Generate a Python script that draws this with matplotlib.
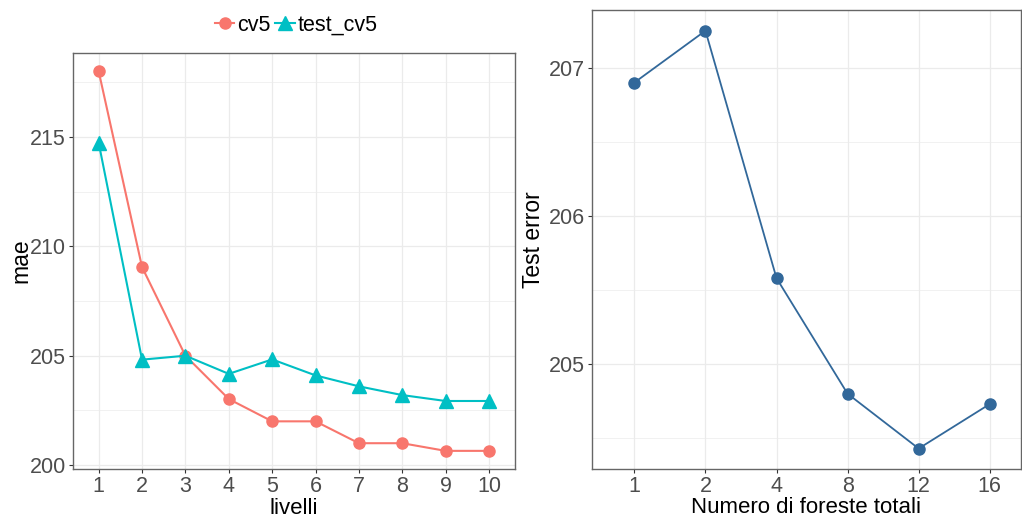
import numpy as np
import matplotlib
matplotlib.use('Agg')
import matplotlib.pyplot as plt
from matplotlib.ticker import MultipleLocator
from matplotlib.lines import Line2D

plt.rcParams['font.family'] = ['Liberation Sans', 'DejaVu Sans']

livelli = ['1', '2', '3', '4', '5', '6', '7', '8', '9', '10']
cv5 = [218.0, 209.05, 205.0, 203.02, 202.0, 202.0, 201.0, 201.0, 200.65, 200.65]
test_cv5 = [214.73, 204.82, 205.0, 204.17, 204.83, 204.1, 203.6, 203.2, 202.93, 202.93]

foreste = ['1', '2', '4', '8', '12', '16']
test_error = [206.9, 207.25, 205.58, 204.8, 204.43, 204.73]

red = '#F8766D'
teal = '#00BFC4'
blue = '#32689A'
grid_c = '#EBEBEB'
tick_c = '#4D4D4D'

fig = plt.figure(figsize=(10.22, 5.17), dpi=100)
ax1 = fig.add_axes([0.0711, 0.0928, 0.4328, 0.8052])
ax2 = fig.add_axes([0.579, 0.0923, 0.420, 0.8884])


def style(ax):
    ax.set_axisbelow(True)
    ax.grid(which='major', color=grid_c, lw=0.9)
    ax.grid(which='minor', axis='y', color=grid_c, lw=0.5)
    for s in ax.spines.values():
        s.set_color('#666666')
        s.set_linewidth(1.0)
    ax.tick_params(which='major', length=3, width=0.8, color='#333333',
                   labelcolor=tick_c, labelsize=15.5, pad=2)
    ax.tick_params(which='minor', length=0)


def place_labels(ax, xl, yl, xy, yx):
    ax.set_xlabel(xl, fontsize=16, va='baseline')
    ax.set_ylabel(yl, fontsize=16.5, va='baseline')
    ax.xaxis.set_label_coords(0.5, xy)
    ax.yaxis.set_label_coords(yx, 0.5)


# left panel
xs = np.arange(len(livelli))
ax1.plot(xs, cv5, color=red, lw=1.5, marker='o', ms=8, zorder=3)
ax1.plot(xs, test_cv5, color=teal, lw=1.5, marker='^', ms=10, zorder=3)
ax1.set_xticks(xs)
ax1.set_xticklabels(livelli)
ax1.set_xlim(-0.6, len(livelli) - 0.4)
ax1.set_ylim(199.82, 218.85)
ax1.yaxis.set_major_locator(MultipleLocator(5))
ax1.yaxis.set_minor_locator(MultipleLocator(2.5))
style(ax1)
place_labels(ax1, 'livelli', 'mae', -0.1069, -0.102)

handles = [Line2D([], [], color=red, lw=1.5, marker='o', ms=8),
           Line2D([], [], color=teal, lw=1.5, marker='^', ms=10)]
fig.legend(handles, ['cv5', 'test_cv5'], loc='center', bbox_to_anchor=(0.29, 0.951),
           ncol=2, frameon=False, fontsize=15.5, handlelength=0.9,
           handletextpad=0.15, columnspacing=0.2)

# right panel
xs2 = np.arange(len(foreste))
ax2.plot(xs2, test_error, color=blue, lw=1.3, marker='o', ms=8, zorder=3)
ax2.set_xticks(xs2)
ax2.set_xticklabels(foreste)
ax2.set_xlim(-0.6, len(foreste) - 1 + 0.44)
ax2.set_ylim(204.29, 207.39)
ax2.yaxis.set_major_locator(MultipleLocator(1))
ax2.yaxis.set_minor_locator(MultipleLocator(0.5))
style(ax2)
place_labels(ax2, 'Numero di foreste totali', 'Test error', -0.0962, -0.1205)

fig.savefig('out.png', dpi=100)
